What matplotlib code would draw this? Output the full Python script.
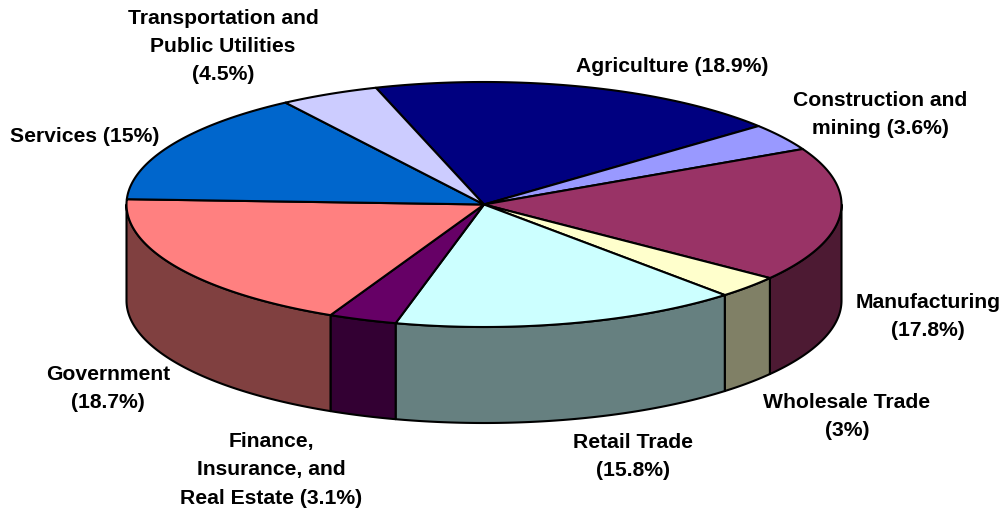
import numpy as np
import matplotlib
matplotlib.use("Agg")
import matplotlib.pyplot as plt

# Data
categories = ['Agriculture', 'Construction and\nmining', 'Manufacturing', 'Wholesale Trade', 'Retail Trade',
              'Finance,\nInsurance, and\nReal Estate', 'Government', 'Services', 'Transportation and\nPublic Utilities']
shares = [18.9, 3.6, 17.8, 3, 15.8, 3.1, 18.7, 15, 4.5]
share_text = ['18.9%', '3.6%', '17.8%', '3%', '15.8%', '3.1%', '18.7%', '15%', '4.5%']
label_breaks = [' ', ' ', '\n', '\n', '\n', ' ', '\n', ' ', '\n']

# colours
top_colors = ['#000080', '#9999FF', '#993366', '#FFFFCC', '#CCFFFF', '#660066', '#FF8080', '#0066CC', '#CCCCFF']
side_colors = ['#000040', '#4D4D80', '#4D1A33', '#808066', '#668080', '#330033', '#804040', '#003366', '#666680']
label_pos = [(672, 66), (880, 115), (928, 317), (847, 417), (633, 457), (271, 470), (108, 389), (85, 137), (223, 46)]

# pie geometry in pixels
cx, cy = 484, 204.5
rx, ry = 357.5, 122.5
depth = 96
start_angle = -17.6
lw = 1.5


def rim(a0, a1, dy=0):
    # angle is clockwise from the top of the ellipse
    t = np.radians(np.linspace(a0, a1, 200))
    return cx + rx * np.sin(t), cy + dy - ry * np.cos(t)


plt.rcParams['font.family'] = ['Liberation Sans', 'DejaVu Sans']
fig = plt.figure(figsize=(10.08, 5.12), dpi=100)
ax = fig.add_axes([0, 0, 1, 1])
ax.set_xlim(0, 1008)
ax.set_ylim(512, 0)
ax.axis('off')

edges = start_angle + np.concatenate([[0], np.cumsum(shares)]) / np.sum(shares) * 360

# side walls, only the front half of the rim shows
for i in range(len(shares)):
    a0 = max(edges[i], 90)
    a1 = min(edges[i + 1], 270)
    if a1 <= a0:
        continue
    x, y = rim(a0, a1)
    x2, y2 = rim(a1, a0, depth)
    ax.fill(np.r_[x, x2], np.r_[y, y2], facecolor=side_colors[i], edgecolor='black', lw=lw, joinstyle='round')

# top face
for i in range(len(shares)):
    x, y = rim(edges[i], edges[i + 1])
    ax.fill(np.r_[cx, x], np.r_[cy, y], facecolor=top_colors[i], edgecolor='black', lw=lw, joinstyle='round')

for i in range(len(categories)):
    txt = categories[i] + label_breaks[i] + '(' + share_text[i] + ')'
    ax.text(label_pos[i][0], label_pos[i][1], txt, ha='center', va='center', fontsize=15.2,
            fontweight='bold', linespacing=1.6, color='black')

fig.savefig('out.png', dpi=100)
